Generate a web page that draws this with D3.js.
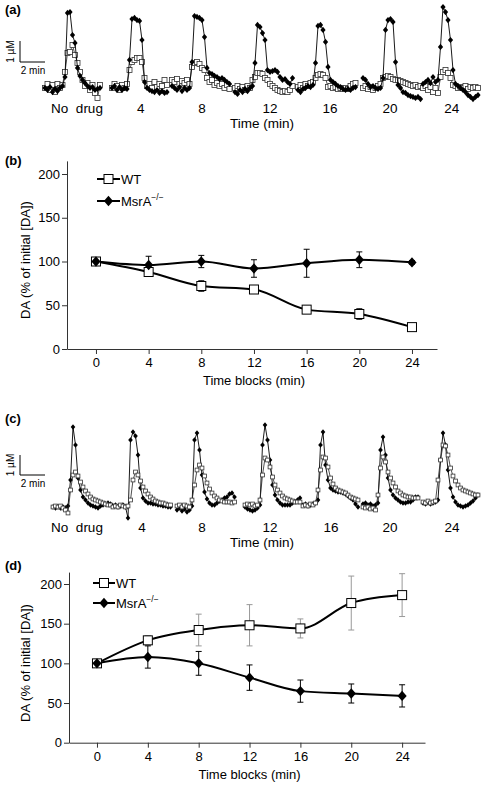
<!DOCTYPE html>
<html><head><meta charset="utf-8">
<script src="https://cdn.jsdelivr.net/npm/d3@7"></script>
<style>body{margin:0;background:#fff}svg{display:block;font-family:"Liberation Sans",Arial,Helvetica,sans-serif}</style>
</head><body><svg id="fig" width="485" height="786"></svg>
<script>
// ---------- shared labels ----------
const groupLabels = ["No\u00A0 drug", "4", "8", "12", "16", "20", "24"];
const timeBlocks = [0, 4, 8, 12, 16, 20, 24];
const yTicks = [0, 50, 100, 150, 200];

// ---------- panel (a): traces, µM, sampled every 0.2 min ----------
const aStart = [0, 5.36, 10.16, 15.2, 20.24, 25.44, 30.24];
const aKO = [
  [0.1,0,0.14,-0.1,0.05,-0.05,0.1,0.19,0.62,3.67,3.71,2.62,2.24,1.05,0.67,0.48,0.33,0.19,0.1,0.14,0,0.05,0.1],
  [0.1,0.19,0,0.14,0,0.1,0.05,1.43,3.38,3.43,3.33,3.29,2.38,0.38,0.1,0,-0.05,-0.1,0,-0.14,-0.05,-0.14,-0.1],
  [0.19,0.1,0,0.14,-0.05,0.1,0,0.1,1.33,3.52,3.48,3.43,3.33,2.52,1.05,0.81,0.76,0.67,0.62,0.52,0.57,0.48,0.38,0.29],
  [-0.1,-0.19,0,-0.1,0.05,-0.05,0.1,0.19,1.29,3.1,3.0,2.71,2.38,0.95,0.86,0.9,0.95,0.86,0.62,0.48,0.52,0.38,0.29,0.57],
  [0,-0.1,0.05,0.1,0.19,0.14,0.24,1.29,3.05,3.1,2.86,2.29,1.1,0.48,0.38,0.29,0.19,0.14,0.05,0,0.05,0,0.1,0.14],
  [0.57,0.48,0.29,0.14,0.19,0.1,0.05,0.1,0.57,2.86,3.33,3.38,3.24,1.33,0.24,0.1,-0.1,-0.14,-0.24,-0.29,-0.33,-0.38,-0.33,-0.43],
  [0.29,0.38,0.48,0.33,0.62,0.38,0.48,2.05,3.95,3.71,3.33,2.38,0.95,0.29,0.19,0.1,0,-0.1,-0.24,-0.33,-0.43,-0.33,-0.24]
];
const aWT = [
  [0.1,0.29,0,0.24,-0.1,0.29,0.1,0.24,0.86,1.76,1.81,2.14,1.67,1.29,0.86,0.48,0.19,0.33,0,0.24,-0.14,-0.38,0.24],
  [0.1,0.29,0.19,0,0.24,0.1,0.29,0.95,1.33,1.43,1.52,1.52,1.33,0.57,0.19,0.29,0.1,0.38,0.14,0.29,0.19,0.48,0.24],
  [0.48,0.38,0.52,0.29,0.43,0.33,0.48,0.29,1.1,1.29,1.33,1.24,1.05,0.95,0.57,0.38,0.48,0.24,0.33,0.19,0.29,0.1,0.24,0.05],
  [0.1,0.19,0.05,0.14,0,0.19,0.1,0.48,0.62,0.81,0.81,0.76,0.57,0.48,0.29,0.19,0.1,0,-0.05,-0.1,-0.05,-0.1,0,0.19],
  [0.14,0.24,0.1,0.29,0.19,0.33,0.38,0.57,0.71,0.76,0.71,0.57,0.14,0.19,0.1,0.14,0.05,0.1,0.05,0.1,0.05,0.19,0.29,0.33],
  [0.1,0.19,0.05,0.14,0,0.1,0.19,0.29,0.57,0.62,0.67,0.62,0.52,0.48,0.48,0.43,0.38,0.33,0.29,0.24,0.19,0.24,0.14,0.19],
  [0.1,0.19,0,0.14,-0.1,0.1,-0.14,0.62,0.86,0.95,0.81,0.57,0.24,0.19,0.1,0.14,0.1,0.19,0.05,0.14,0.1,0.14,0.1]
];

// ---------- panel (b): % of initial [DA] ----------
const bWT = [100, 88, 72, 68, 45, 40, 25];
const bWTerr = [2, 3, 6, 4, 4, 6, 3];
const bKO = [100, 96, 100, 92, 98, 102, 99];
const bKOerr = [2, 10, 7, 10, 16, 9, 2];

// ---------- panel (c): traces ----------
const cStart = [0, 4.8, 9.92, 15.36, 20, 24.8, 29.6];
const cKO = [
  [0.05,0,0.05,0,0.05,0,0.1,1.4,4.05,3.15,1.5,0.9,0.55,0.4,0.25,0.15,0.1,0.05,0,0.1,0.15,0.2,0.25,0.2],
  [0.1,0.15,0.05,0.1,0.15,0.05,-0.5,3.4,3.8,3.6,2.65,1.0,0.5,0.35,0.25,0.25,0.2,0.2,0.15,0.15,0.1,0.1,0.05,0.05],
  [-0.1,0,-0.15,-0.05,-0.2,-0.1,0.1,3.4,3.75,2.9,1.65,0.8,0.45,0.25,0.15,0.15,0.25,0.35,0.4,0.5,0.55,0.7,0.75,0.55],
  [0.05,-0.05,-0.1,-0.15,-0.1,0,0.15,3.15,4.15,3.4,2.4,1.15,0.65,0.4,0.25,0.15,0.15,0.15,0.15,0.25,0.3,0.4,0.5],
  [0.15,0.2,0.1,0.15,0.2,0.25,0.4,3.15,3.8,2.15,1.4,1.0,0.9,0.85,0.8,0.8,0.75,0.7,0.6,0.5,0.4,0.2,0.05],
  [0.2,0.25,0.15,0.2,0.1,0.15,0.25,2.9,3.55,2.65,1.5,0.9,0.65,0.5,0.4,0.3,0.25,0.25,0.3,0.3,0.4,0.55,0.55],
  [0.25,0.2,0.3,0.2,0.25,0.3,0.4,2.4,3.75,3.15,1.9,1.0,0.55,0.3,0.15,0.1,0.05,0.1,0.15,0.25,0.35,0.5,0.65]
];
const cWT = [
  [0.05,0.1,0.05,0.1,0,-0.1,-0.25,0.9,1.65,1.8,1.6,1.3,1.05,0.85,0.7,0.55,0.45,0.4,0.35,0.3,0.25,0.2,0.15,0.15],
  [0.05,0.1,0.05,0.15,0.1,0.05,0.1,0.4,1.4,1.8,1.65,1.35,1.05,0.85,0.7,0.55,0.45,0.35,0.3,0.25,0.25,0.2,0.15,0.15],
  [0.1,0.15,0.05,0.15,0.1,0.05,0.4,1.15,1.9,2.15,2.0,1.6,1.25,0.95,0.75,0.6,0.5,0.4,0.35,0.3,0.3,0.3,0.25,0.3],
  [0.15,0.2,0.15,0.2,0.1,0.15,0.4,1.65,2.5,2.4,2.05,1.55,1.15,0.9,0.75,0.6,0.5,0.45,0.4,0.35,0.3,0.3,0.3],
  [0.1,0.15,0.1,0.2,0.15,0.25,0.9,1.9,2.55,2.5,2.05,1.5,1.2,1.0,0.9,0.85,0.8,0.75,0.65,0.55,0.5,0.45,0.4],
  [0.05,0,0.05,-0.05,0,-0.1,0.65,2.0,2.55,2.3,1.8,1.5,1.25,1.05,0.85,0.75,0.65,0.6,0.55,0.55,0.5,0.5,0.5],
  [0.3,0.25,0.35,0.25,0.3,0.35,1.4,2.4,3.15,3.1,2.65,2.0,1.6,1.35,1.15,1.0,0.9,0.85,0.8,0.75,0.7,0.65,0.65]
];

// ---------- panel (d) ----------
const dWT = [100, 129, 142, 148, 144, 176, 186];
const dWTerr = [3, 6, 20, 26, 12, 34, 27];
const dKO = [100, 108, 100, 82, 65, 62, 59];
const dKOerr = [3, 14, 15, 16, 14, 12, 14];

const traceDt = 0.2;
const svg = d3.select("#fig");
const FONT = 13;

function panelLabel(txt, x, y) {
  svg.append("text").attr("x", x).attr("y", y).attr("font-size", 13)
    .attr("font-weight", "bold").text(txt);
}

function diamondPath(cx, cy, hw, hh) {
  return `M${cx},${cy-hh}L${cx+hw},${cy}L${cx},${cy+hh}L${cx-hw},${cy}Z`;
}

function tracePanel(o) {
  const g = svg.append("g");
  const x = d3.scaleLinear().domain([0, 36]).range([o.x0, o.x0 + 36 * 12.5]);
  const y = d3.scaleLinear().domain([0, 4]).range([o.y0, o.y0 - 4 * o.pxPerUM]);
  const line = d3.line().x(d => x(d[0])).y(d => y(d[1]));
  const toPts = (arr, s) => arr.map((v, i) => [s + i * traceDt, v]);
  const sq = o.sq, dw = o.dw, dh = o.dh;

  function drawWT(gi) {
    const pts = toPts(o.wt[gi], o.start[gi]);
    g.append("path").attr("d", line(pts)).attr("fill", "none").attr("stroke", "#222").attr("stroke-width", 0.8);
    g.selectAll(null).data(pts).enter().append("rect")
      .attr("x", d => x(d[0]) - sq / 2).attr("y", d => y(d[1]) - sq / 2)
      .attr("width", sq).attr("height", sq)
      .attr("fill", "#fff").attr("stroke", "#333").attr("stroke-width", 0.8);
  }
  function drawKO(gi) {
    const pts = toPts(o.ko[gi], o.start[gi]);
    g.append("path").attr("d", line(pts)).attr("fill", "none").attr("stroke", "#000").attr("stroke-width", 0.9);
    g.selectAll(null).data(pts).enter().append("path")
      .attr("d", d => diamondPath(x(d[0]), y(d[1]), dw, dh)).attr("fill", "#000");
  }
  o.start.forEach((s, gi) => {
    if (o.koFirst) { drawKO(gi); drawWT(gi); } else { drawWT(gi); drawKO(gi); }
    g.append("text").attr("x", x(s + o.labelOffset[gi])).attr("y", o.labelY)
      .attr("text-anchor", "middle").attr("font-size", 13.5).text(groupLabels[gi]);
  });
  g.append("text").attr("x", 262).attr("y", o.titleY).attr("text-anchor", "middle")
    .attr("font-size", 13.5).text("Time (min)");
  // scale bar: 1 µM x 2 min
  const sbX = 20, sbY = o.sbY;
  const hLen = x(2) - x(0), vLen = y(0) - y(1);
  g.append("path").attr("d", `M${sbX},${sbY - vLen}V${sbY}H${sbX + hLen}`)
    .attr("fill", "none").attr("stroke", "#000").attr("stroke-width", 1);
  g.append("text").attr("transform", `translate(${sbX - 6},${sbY - vLen / 2}) rotate(-90)`)
    .attr("text-anchor", "middle").attr("font-size", 10).text("1 \u00B5M");
  g.append("text").attr("x", sbX + hLen / 2 + 0.5).attr("y", sbY + 12)
    .attr("text-anchor", "middle").attr("font-size", 10).text("2 min");
}

function summaryPanel(o) {
  const g = svg.append("g");
  const x = d3.scaleLinear().domain([-2.2, o.xMax]).range([o.left, o.right]);
  const y = d3.scaleLinear().domain([0, 215]).range([o.bottom, o.bottom - 215 * o.pxPerUnit]);
  const xa = g.append("g").attr("transform", `translate(0,${y(0)})`)
    .call(d3.axisBottom(x).tickValues(timeBlocks).tickSize(5).tickSizeOuter(0).tickPadding(4));
  const ya = g.append("g").attr("transform", `translate(${x(-2.2)},0)`)
    .call(d3.axisLeft(y).tickValues(yTicks).tickSize(5).tickSizeOuter(0).tickPadding(2));
  [xa, ya].forEach(a => {
    a.selectAll("text").attr("font-size", FONT).attr("font-family", "Liberation Sans, Arial, sans-serif").attr("fill", "#000");
    a.selectAll("line,path").attr("stroke", "#333");
  });
  g.append("text").attr("x", x(12)).attr("y", o.bottom + 36).attr("text-anchor", "middle")
    .attr("font-size", FONT).text("Time blocks (min)");
  g.append("text").attr("transform", `translate(30,${o.yTitleC}) rotate(-90)`)
    .attr("text-anchor", "middle").attr("font-size", FONT).text("DA (% of initial [DA])");

  const line = d3.line().x((d, i) => x(timeBlocks[i])).y(d => y(d)).curve(d3.curveMonotoneX);
  function errBars(vals, errs, color) {
    vals.forEach((v, i) => {
      const cx = x(timeBlocks[i]);
      g.append("path").attr("d",
        `M${cx},${y(v - errs[i])}V${y(v + errs[i])}M${cx - 3},${y(v - errs[i])}H${cx + 3}M${cx - 3},${y(v + errs[i])}H${cx + 3}`)
        .attr("stroke", color).attr("stroke-width", 1).attr("fill", "none");
    });
  }
  errBars(o.wt, o.wtErr, o.wtErrColor);
  errBars(o.ko, o.koErr, "#000");
  g.append("path").attr("d", line(o.wt)).attr("fill", "none").attr("stroke", "#000").attr("stroke-width", 2);
  g.append("path").attr("d", line(o.ko)).attr("fill", "none").attr("stroke", "#000").attr("stroke-width", 2);
  o.wt.forEach((v, i) => {
    g.append("rect").attr("x", x(timeBlocks[i]) - 4.5).attr("y", y(v) - 4.5).attr("width", 9).attr("height", 9)
      .attr("fill", "#fff").attr("stroke", "#000").attr("stroke-width", 1);
  });
  o.ko.forEach((v, i) => {
    g.append("path").attr("d", diamondPath(x(timeBlocks[i]), y(v), 4.6, 5.2)).attr("fill", "#000");
  });
  // legend
  const L = o.legend;
  [["WT", L.y1, "wt"], ["MsrA", L.y2, "ko"]].forEach(([lab, ly, kind]) => {
    g.append("path").attr("d", `M${L.x1},${ly}H${L.x2}`).attr("stroke", "#000").attr("stroke-width", 2);
    const cx = (L.x1 + L.x2) / 2;
    if (kind === "wt") {
      g.append("rect").attr("x", cx - 4.5).attr("y", ly - 4.5).attr("width", 9).attr("height", 9)
        .attr("fill", "#fff").attr("stroke", "#000");
    } else {
      g.append("path").attr("d", diamondPath(cx, ly, 4.6, 5.2)).attr("fill", "#000");
    }
    const t = g.append("text").attr("x", L.x2 + 1).attr("y", ly + 5).attr("font-size", FONT).text(lab);
    if (kind === "ko") t.append("tspan").attr("dy", -6).attr("font-size", 8.5).text("\u2212/\u2212");
  });
}

panelLabel("(a)", 5, 14);
tracePanel({ x0: 45, y0: 90, pxPerUM: 21, start: aStart, wt: aWT, ko: aKO, koFirst: false,
  sq: 5, dw: 2.6, dh: 3.1,
  labelOffset: [2.56, 2.3, 2.4, 2.8, 2.56, 2.16, 2.3], labelY: 113, titleY: 128, sbY: 62 });

panelLabel("(b)", 5, 165);
summaryPanel({ left: 67, right: 437, xMax: 25.9, bottom: 349, pxPerUnit: 0.875, yTitleC: 260,
  wt: bWT, wtErr: bWTerr, ko: bKO, koErr: bKOerr, wtErrColor: "#000",
  legend: { x1: 97, x2: 120, y1: 179, y2: 201 } });

panelLabel("(c)", 5, 423);
tracePanel({ x0: 53, y0: 508, pxPerUM: 20, start: cStart, wt: cWT, ko: cKO, koFirst: true,
  sq: 3.8, dw: 2.3, dh: 2.8,
  labelOffset: [1.92, 2.32, 2.0, 2.0, 2.24, 2.16, 2.32], labelY: 532, titleY: 547, sbY: 475 });

panelLabel("(d)", 5, 570);
summaryPanel({ left: 69, right: 425, xMax: 25.8, bottom: 742.7, pxPerUnit: 0.7935, yTitleC: 663,
  wt: dWT, wtErr: dWTerr, ko: dKO, koErr: dKOerr, wtErrColor: "#999",
  legend: { x1: 93, x2: 115, y1: 583, y2: 603 } });
</script></body></html>
